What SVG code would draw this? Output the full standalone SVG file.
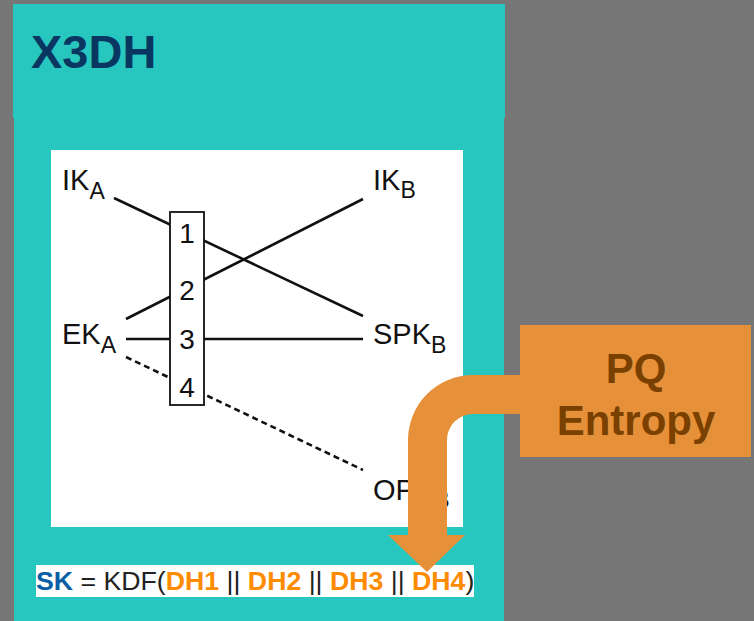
<svg xmlns="http://www.w3.org/2000/svg" width="754" height="621" viewBox="0 0 754 621">
<style>
.lbl{font-family:"Liberation Sans",Arial,sans-serif;font-size:29px;fill:#111}
.sub{font-size:23px}
.num{font-family:"Liberation Sans",Arial,sans-serif;font-size:28px;fill:#111;text-anchor:middle}
.ln{stroke:#111;stroke-width:2.6;fill:none}
.f{font-family:"Liberation Sans",Arial,sans-serif;font-size:26.7px;fill:#222}
.b{font-weight:bold}
.dh{font-weight:bold;fill:#ff8c00}
</style>
<rect x="0" y="0" width="754" height="621" fill="#767676"/>
<rect x="13" y="4" width="492" height="114" fill="#27c7bf"/>
<rect x="14" y="117" width="490" height="504" fill="#27c7bf"/>
<g id="title"><text x="31" y="68" font-family="Liberation Sans,Arial,sans-serif" font-size="47" font-weight="bold" fill="#0a3761">X3DH</text></g>
<rect x="51" y="150" width="412" height="377" fill="#ffffff"/>
<g id="connectors">
<line class="ln" x1="114" y1="198" x2="363" y2="316"/>
<line class="ln" x1="126" y1="319" x2="363" y2="199"/>
<line class="ln" x1="126" y1="339" x2="363" y2="339"/>
<line class="ln" x1="126" y1="357" x2="363" y2="470" stroke-dasharray="6,4"/>
</g>
<g id="dh-box">
<rect x="170" y="212" width="34" height="193" fill="#fff" stroke="#111" stroke-width="1.8"/>
<text class="num" x="187" y="243">1</text>
<text class="num" x="187" y="300">2</text>
<text class="num" x="187" y="349">3</text>
<text class="num" x="187" y="397">4</text>
</g>
<g id="IKA"><text class="lbl" x="62" y="190">IK<tspan class="sub" dy="9">A</tspan></text></g>
<g id="EKA"><text class="lbl" x="62" y="344">EK<tspan class="sub" dy="9">A</tspan></text></g>
<g id="IKB"><text class="lbl" x="373" y="190">IK<tspan class="sub" dy="8">B</tspan></text></g>
<g id="SPKB"><text class="lbl" x="373" y="344">SPK<tspan class="sub" dy="9">B</tspan></text></g>
<g id="OPKB"><text class="lbl" x="373" y="500">OPK<tspan class="sub" dy="8">B</tspan></text></g>
<g id="formula">
<rect x="36" y="565" width="438" height="32" fill="#fff"/>
<text class="f" x="36" y="590"><tspan class="b" fill="#0b5fa5">SK</tspan> = KDF(<tspan class="dh">DH1</tspan> || <tspan class="dh">DH2</tspan> || <tspan class="dh">DH3</tspan> || <tspan class="dh">DH4</tspan>)</text>
</g>
<g id="pq-entropy">
<path d="M520,375 L473,375 A65,65 0 0 0 408,440 L408,535 L388,535 L427,572 L465,535 L447,535 L447,440 A26,26 0 0 1 473,414 L520,414 Z" fill="#e6913a"/>
<rect x="520" y="325" width="231" height="132" fill="#e6913a"/>
<text x="636" y="383" text-anchor="middle" font-family="Liberation Sans,Arial,sans-serif" font-size="42" font-weight="bold" fill="#7a4000">PQ</text>
<text x="636" y="435" text-anchor="middle" font-family="Liberation Sans,Arial,sans-serif" font-size="42" font-weight="bold" fill="#7a4000">Entropy</text>
</g>
</svg>
